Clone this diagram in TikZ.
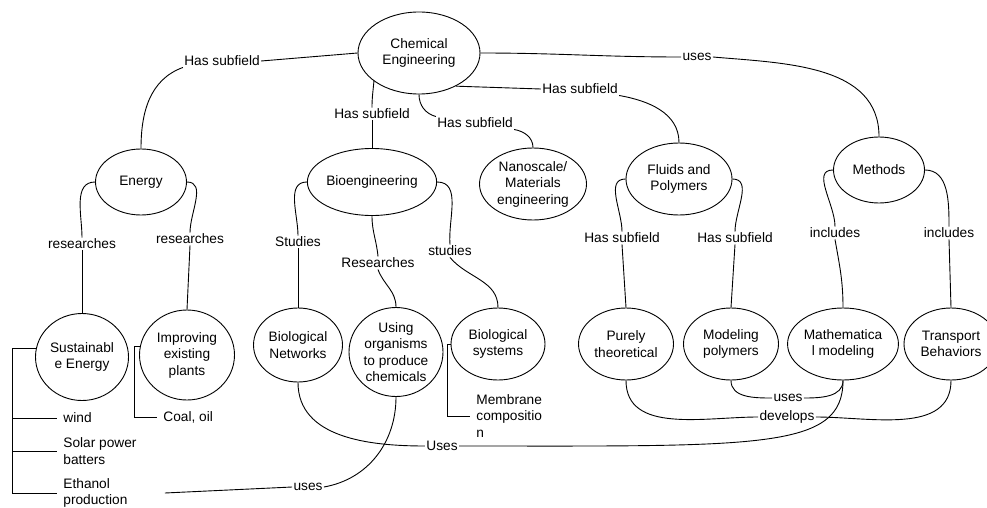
\documentclass[tikz,border=0pt]{standalone}
\usepackage{fontspec}
\setmainfont{Liberation Sans}
\usetikzlibrary{positioning,shapes.geometric}
\tikzset{
    concept/.style 2 args = {
        draw,
        ellipse,
        minimum width=#1pt,
        minimum height=#2pt,
        inner sep=0pt,
        align=center,
        },
    phrase/.style = {
        inner sep=1pt,
        },
    leaf/.style = {
        anchor=west,
        inner xsep=6pt,
        inner ysep=1pt,
        align=left,
        },
}
\begin{document}
\begin{tikzpicture}[x=1pt, y=1pt, line width=0.9pt, font=\fontsize{13.7}{16.5}\selectfont]
            \useasboundingbox (0,0) rectangle (987,-508);

            % concepts
            \node[concept={122}{82}] (chem) at (419,-53) {Chemical\\Engineering};
            \node[concept={91}{66}] (energy) at (141,-182) {Energy};
            \node[concept={122}{67}] (bio) at (372,-182) {Bioengineering};
            \node[concept={107}{72}] (nano) at (533,-184) {Nanoscale/\\Materials\\engineering};
            \node[concept={106}{72}] (fluids) at (679,-179) {Fluids and\\Polymers};
            \node[concept={91}{66}] (methods) at (879,-170) {Methods};
            \node[concept={93}{87}] (sust) at (82,-357) {Sustainabl\\e Energy};
            \node[concept={95}{90}] (impr) at (187,-355) {Improving\\existing\\plants};
            \node[concept={89}{74}] (bionet) at (298,-345) {Biological\\Networks};
            \node[concept={94}{89}] (using) at (396,-352) {Using\\organisms\\to produce\\chemicals};
            \node[concept={94}{72}] (biosys) at (498,-344) {Biological\\systems};
            \node[concept={95}{72}] (purely) at (626,-344) {Purely\\theoretical};
            \node[concept={95}{72}] (modpoly) at (731,-344) {Modeling\\polymers};
            \node[concept={108}{72}] (math) at (843,-344) {Mathematica\\l modeling};
            \node[concept={94}{72}] (trans) at (951,-344) {Transport\\Behaviors};

            % linking phrases
            \node[phrase] (hsa) at (222,-61) {Has subfield};
            \node[phrase] (hsb) at (372,-114) {Has subfield};
            \node[phrase] (hsc) at (475,-123) {Has subfield};
            \node[phrase] (hsd) at (580,-89) {Has subfield};
            \node[phrase] (usesa) at (697,-57) {uses};
            \node[phrase] (resa) at (82,-244) {researches};
            \node[phrase] (resb) at (190,-239) {researches};
            \node[phrase] (studa) at (298,-242) {Studies};
            \node[phrase] (resc) at (378,-263) {Researches};
            \node[phrase] (studb) at (450,-251) {studies};
            \node[phrase] (hse) at (622,-238) {Has subfield};
            \node[phrase] (hsf) at (735,-238) {Has subfield};
            \node[phrase] (incla) at (835,-233) {includes};
            \node[phrase] (inclb) at (949,-233) {includes};
            \node[phrase] (usesb) at (788,-398) {uses};
            \node[phrase] (devel) at (787,-417) {develops};
            \node[phrase] (usesc) at (442,-446) {Uses};
            \node[phrase] (usesd) at (308,-487) {uses};

            % leaves
            \node[leaf] (wind) at (57,-418) {wind};
            \node[leaf] (solar) at (57,-451) {Solar power\\batters};
            \node[leaf, text width=95pt] (ethanol) at (57,-493) {Ethanol\\production};
            \node[leaf] (coal) at (157,-417) {Coal, oil};
            \node[leaf] (membrane) at (470,-416) {Membrane\\compositio\\n};

            \coordinate[left=23pt of sust.170] (sustfork);
            \coordinate[left=5pt of impr.170] (imprfork);
            \coordinate[left=3pt of biosys.west] (biosysfork);

            \draw (sust.170) -- (sustfork) |- (wind.west) (sustfork) |- (solar.west) (sustfork) |- (ethanol.west);
            \draw (impr.170) -- (imprfork) |- (coal.west);
            \draw (biosys.west) -- (biosysfork) |- (membrane.west);

            \path (chem.west) edge (hsa.east);
            \path (hsa.south west) edge[out=200, in=90] (energy.north);
            \path (chem.212) edge[out=265, in=90] (hsb.north);
            \path (hsb.south) edge (bio.north);
            \path (chem.south) edge[out=270, in=165] (hsc.north west);
            \path (hsc.south east) edge[out=-10, in=90] (nano.north);
            \path (chem.318) edge (hsd.west);
            \path (hsd.south east) edge[out=-10, in=90] (fluids.north);
            \path (chem.east) edge[out=0, in=180] (usesa.west);
            \path (usesa.east) edge[out=-5, in=90] (methods.north);

            \path (energy.west) edge[out=180, in=90] (resa.north);
            \path (resa.south) edge (sust.north);
            \path (energy.east) edge[out=0, in=90] (resb.north);
            \path (resb.south) edge (impr.north);

            \path (bio.west) edge[out=180, in=90] (studa.north);
            \path (studa.south) edge (bionet.north);
            \path (bio.south) edge[out=270, in=95] (resc.north);
            \path (resc.south) edge[out=-70, in=90] (using.north);
            \path (bio.east) edge[out=0, in=95] (studb.north);
            \path (studb.south) edge[out=-50, in=90] (biosys.north);

            \path (fluids.west) edge[out=180, in=90] (hse.north);
            \path (hse.south) edge (purely.north);
            \path (fluids.east) edge[out=0, in=90] (hsf.north);
            \path (hsf.south) edge (modpoly.north);

            \path (methods.west) edge[out=180, in=90] (incla.north);
            \path (incla.south) edge[out=-80, in=90] (math.north);
            \path (methods.east) edge[out=0, in=90] (inclb.north);
            \path (inclb.south) edge (trans.north);

            \path (modpoly.south) edge[out=270, in=180] (usesb.west);
            \path (usesb.east) edge[out=0, in=270] (math.south);
            \path (purely.south) edge[out=270, in=180] (devel.west);
            \path (devel.east) edge[out=0, in=270] (trans.south);
            \path (bionet.south) edge[out=270, in=180] (usesc.west);
            \path (usesc.east) edge[out=0, in=270, out distance=300pt, in distance=70pt] (math.south);
            \path (usesd.west) edge (ethanol.east);
            \path (usesd.east) edge[out=10, in=270] (using.south);
        \end{tikzpicture}
\end{document}
